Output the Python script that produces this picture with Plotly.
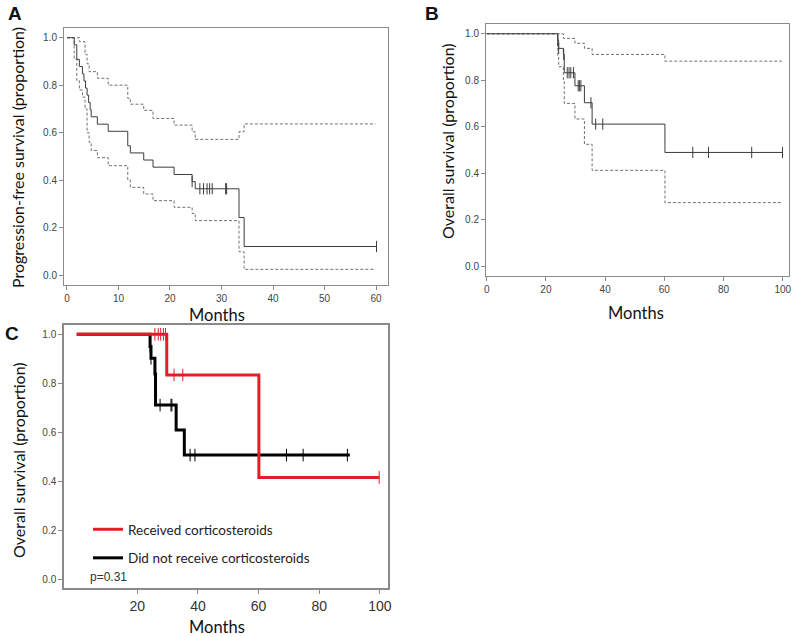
import plotly.graph_objects as go

# ---------------- Panel A: progression-free survival ----------------
a_time = [0, 1.4, 1.9, 2.4, 3.0, 3.3, 3.6, 3.9, 4.2, 4.5, 4.7, 5.9, 8.0, 11.8, 12.3,
          14.9, 16.7, 20.8, 24.3, 24.9, 33.4, 34.4, 60.1]
a_surv = [1.0, 0.970, 0.909, 0.879, 0.848, 0.818, 0.788, 0.758, 0.727, 0.697, 0.667,
          0.636, 0.606, 0.545, 0.515, 0.485, 0.455, 0.424, 0.394, 0.364, 0.243, 0.121, 0.121]
a_up_time = [0, 2.4, 3.5, 3.9, 4.3, 5.9, 8.0, 11.8, 12.3, 14.9, 16.7, 20.8, 24.3, 24.9,
             33.4, 34.4, 59.9]
a_up_surv = [1.0, 0.983, 0.93, 0.89, 0.857, 0.829, 0.800, 0.745, 0.720, 0.694, 0.660,
             0.632, 0.604, 0.572, 0.604, 0.637, 0.637]
a_lo_time = [0, 1.4, 1.9, 2.4, 3.0, 3.5, 3.9, 4.3, 4.7, 5.9, 8.0, 11.8, 12.3, 14.9,
             16.7, 20.8, 24.3, 24.9, 33.4, 34.4, 59.9]
a_lo_surv = [1.0, 0.91, 0.82, 0.78, 0.75, 0.70, 0.60, 0.56, 0.525, 0.495, 0.461, 0.401,
             0.370, 0.342, 0.314, 0.286, 0.260, 0.230, 0.099, 0.025, 0.025]
a_censor = [24.3, 25.8, 26.5, 27.2, 27.7, 28.2, 30.8, 31.0, 60.1]

# ---------------- Panel B: overall survival ----------------
b_time = [0, 24.0, 24.3, 25.9, 26.2, 29.8, 33.0, 35.6, 60.2, 99.9]
b_surv = [1.0, 0.970, 0.937, 0.911, 0.832, 0.776, 0.703, 0.611, 0.489, 0.489]
b_up_time = [0, 25.9, 29.8, 33.0, 35.6, 60.2, 99.7]
b_up_surv = [1.0, 0.980, 0.959, 0.937, 0.911, 0.882, 0.882]
b_lo_time = [0, 24.0, 24.3, 25.9, 26.2, 29.8, 33.0, 35.6, 60.2, 99.7]
b_lo_surv = [1.0, 0.900, 0.858, 0.800, 0.700, 0.633, 0.524, 0.412, 0.273, 0.273]
b_censor = [24.0, 24.3, 26.0, 27.2, 27.8, 28.4, 29.3, 30.9, 31.3, 31.8, 35.2, 36.8,
            39.2, 69.6, 74.9, 89.5, 99.9]

# ---------------- Panel C: overall survival by corticosteroids ----------------
c_red_time = [0, 29.7, 60.1, 99.8]
c_red_surv = [1.0, 0.834, 0.416, 0.416]
c_red_censor = [25.8, 26.9, 27.7, 28.6, 29.3, 32.1, 35.0, 99.8]
c_blk_time = [0, 24.2, 24.5, 25.8, 26.0, 32.8, 35.5, 90.1]
c_blk_surv = [1.0, 0.950, 0.902, 0.838, 0.711, 0.609, 0.507, 0.507]
c_blk_censor = [24.2, 24.5, 25.8, 27.5, 31.1, 31.4, 37.4, 39.0, 69.2, 74.7, 89.3]
c_labels = ["Received corticosteroids", "Did not receive corticosteroids"]
c_pvalue = "p=0.31"

y_ticks = [0.0, 0.2, 0.4, 0.6, 0.8, 1.0]
a_xticks = [0, 10, 20, 30, 40, 50, 60]
b_xticks = [0, 20, 40, 60, 80, 100]
c_xticks = [20, 40, 60, 80, 100]


def km_at(times, surv, t):
    v = surv[0]
    for ti, si in zip(times, surv):
        if ti <= t:
            v = si
        else:
            break
    return v


TICKF = "Liberation Sans, Arial, sans-serif"
TITLEF = "Lato, Carlito, sans-serif"
SOLID = "#3c3c3c"
DASH = "#707070"
FRAME = "#8a8a8a"

fig = go.Figure()


def step(x, y, xa, ya, color, width, dash="solid", name=None, show=False, rank=None):
    fig.add_trace(go.Scatter(x=x, y=y, mode="lines", line=dict(color=color, width=width,
                  dash=dash, shape="hv"), xaxis=xa, yaxis=ya, name=name,
                  showlegend=show, legendgroup=name, legendrank=rank, hoverinfo="skip"))


def censors(times, ktimes, ksurv, xa, ya, color, size=8, width=1):
    fig.add_trace(go.Scatter(x=times, y=[km_at(ktimes, ksurv, t) for t in times],
                  mode="markers", marker=dict(symbol="line-ns", size=size,
                  line=dict(color=color, width=width)), xaxis=xa, yaxis=ya,
                  showlegend=False, hoverinfo="skip"))


DSH = "3px,2px"
# Panel A
step(a_up_time, a_up_surv, "x", "y", DASH, 1, DSH)
step(a_lo_time, a_lo_surv, "x", "y", DASH, 1, DSH)
step(a_time, a_surv, "x", "y", SOLID, 1)
censors(a_censor, a_time, a_surv, "x", "y", SOLID)
# Panel B
step(b_up_time, b_up_surv, "x2", "y2", DASH, 1, DSH)
step(b_lo_time, b_lo_surv, "x2", "y2", DASH, 1, DSH)
step(b_time, b_surv, "x2", "y2", SOLID, 1)
censors(b_censor, b_time, b_surv, "x2", "y2", SOLID)
# Panel C
step(c_blk_time, c_blk_surv, "x3", "y3", "#000000", 3, name=c_labels[1], show=True, rank=2)
censors(c_blk_censor, c_blk_time, c_blk_surv, "x3", "y3", "#000000", 9, 1)
step(c_red_time, c_red_surv, "x3", "y3", "#e31e24", 3, name=c_labels[0], show=True, rank=1)
censors(c_red_censor, c_red_time, c_red_surv, "x3", "y3", "#e31e24", 9, 1)

W, H = 800, 637


def px_x(p):
    return p / W


def px_y(p):
    return 1 - p / H


axis_common = dict(showline=True, mirror=True, linecolor=FRAME, linewidth=1,
                   showgrid=False, zeroline=False, ticks="outside", ticklen=4,
                   automargin=False, tickcolor=FRAME,
                   tickfont=dict(family=TICKF, size=10, color="#444"))

fig.update_layout(
    width=W, height=H, margin=dict(l=0, r=0, t=0, b=0, autoexpand=False),
    paper_bgcolor="white", plot_bgcolor="white",
    xaxis=dict(domain=[px_x(64), px_x(388)], range=[-0.58, 62.33], anchor="y",
               tickvals=a_xticks, **axis_common),
    yaxis=dict(domain=[px_y(285), px_y(27.7)], range=[-0.041, 1.042], anchor="x",
               tickvals=y_ticks, tickformat=".1f", **axis_common),
    xaxis2=dict(domain=[px_x(486), px_x(789)], range=[-0.24, 102.1], anchor="y2",
                tickvals=b_xticks, **axis_common),
    yaxis2=dict(domain=[px_y(276), px_y(24)], range=[-0.043, 1.042], anchor="x2",
                tickvals=y_ticks, tickformat=".1f", **axis_common),
    xaxis3=dict(domain=[px_x(64), px_x(388)], range=[-4.2, 102.7], anchor="y3",
                tickvals=c_xticks, **{**axis_common, "linewidth": 1.5,
                "tickfont": dict(family=TICKF, size=14, color="#333")}),
    yaxis3=dict(domain=[px_y(588), px_y(325)], range=[-0.0355, 1.038], anchor="x3",
                tickvals=y_ticks, tickformat=".1f", **{**axis_common, "linewidth": 1.5}),
    legend=dict(x=px_x(88), y=px_y(514), xanchor="left", yanchor="top",
                traceorder="grouped", tracegroupgap=8, bgcolor="rgba(0,0,0,0)",
                font=dict(family=TITLEF, size=13.5, color="#222")),
    showlegend=True,
)

ann = []


def text(x, y, s, size, family=TITLEF, angle=0, bold=False, xanchor="center", color="#111"):
    ann.append(dict(x=px_x(x), y=px_y(y), xref="paper", yref="paper", text=(f"<b>{s}</b>" if bold else s),
                    showarrow=False, textangle=angle, xanchor=xanchor, yanchor="middle",
                    font=dict(family=family, size=size, color=color)))


text(15, 13, "A", 19, family="Liberation Sans, Arial", bold=True)
text(432, 13, "B", 19, family="Liberation Sans, Arial", bold=True)
text(12, 333, "C", 19, family="Liberation Sans, Arial", bold=True)
text(18, 158, "Progression-free survival (proportion)", 16, angle=-90)
text(447, 141, "Overall survival (proportion)", 16, angle=-90)
text(18, 460, "Overall survival (proportion)", 16, angle=-90)
text(217, 315, "Months", 16.5)
text(636, 313, "Months", 16.5)
text(217, 627, "Months", 16.5)
text(88, 577, c_pvalue, 12, family=TICKF, xanchor="left", color="#333")
fig.update_layout(annotations=ann)

fig.write_html("out.html", config={"displayModeBar": False},
               post_script="document.body.style.margin='0';document.body.style.overflow='hidden';")
